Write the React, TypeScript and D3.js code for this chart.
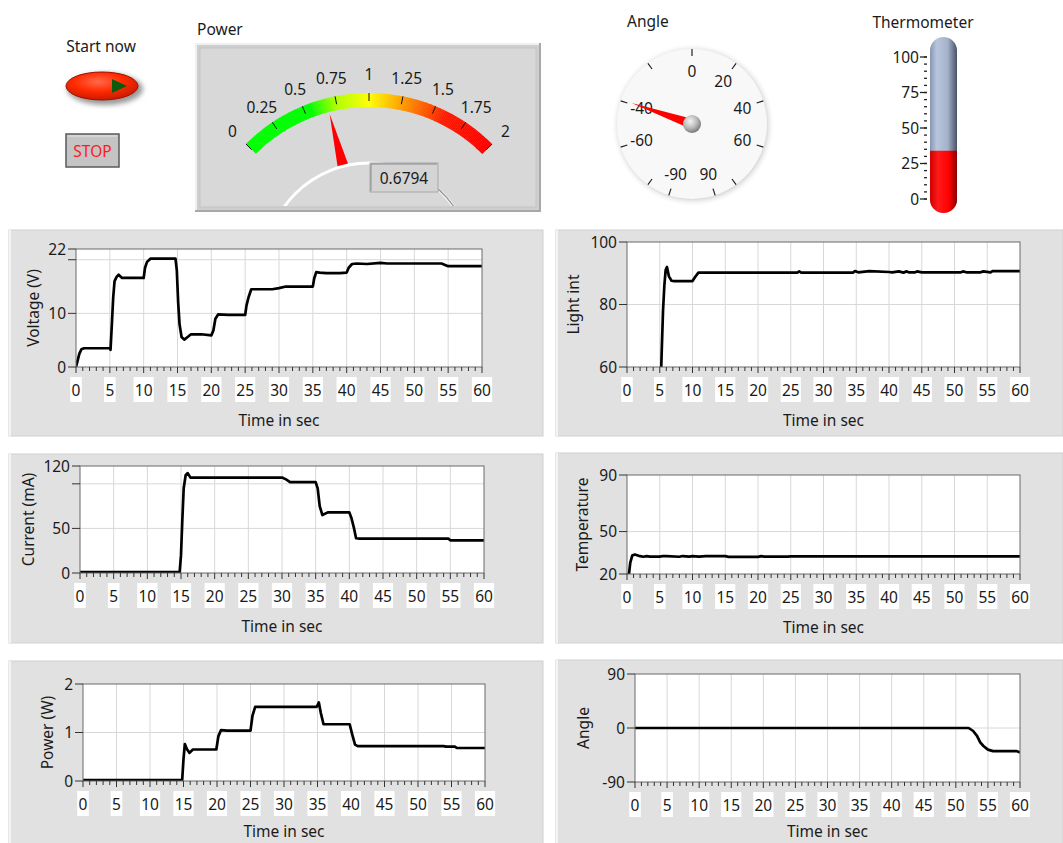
import React from "react";
import * as d3 from "d3";

const FONT = "'Noto Sans', 'Open Sans', 'DejaVu Sans', sans-serif";

// ---------- shared axis data ----------
const TIME_TICKS = d3.range(0, 61, 5);
const MINOR_TICKS = d3.range(0, 61, 1);

// ---------- Voltage (V) ----------
const VOLT_T = [0, 0.2, 0.5, 0.8, 1.2, 5, 5.1, 5.3, 5.5, 5.7, 6, 6.3, 6.8, 10, 10.2, 10.5, 11, 14.7, 14.9, 15.1, 15.3, 15.6, 16, 16.5, 17, 18.5, 20, 20.3, 20.6, 21, 22.5, 25, 25.2, 25.5, 25.9, 29, 30, 31, 35, 35.2, 35.5, 36, 37, 39, 40, 40.3, 40.8, 41.5, 43, 45, 46, 54, 55, 60];
const VOLT_V = [0, 1, 2.5, 3.3, 3.5, 3.5, 3.2, 8, 13, 16, 16.8, 17.2, 16.6, 16.6, 18.5, 19.6, 20.2, 20.2, 18, 12, 8, 5.6, 5.1, 5.6, 6.1, 6.1, 5.9, 6.8, 9, 9.8, 9.7, 9.7, 11.5, 13, 14.5, 14.5, 14.7, 15.0, 15.0, 16.5, 17.7, 17.6, 17.5, 17.5, 17.6, 18.5, 19.2, 19.3, 19.2, 19.4, 19.3, 19.3, 18.8, 18.8];

// ---------- Light int ----------
const LIGHT_T = [0, 5.2, 5.3, 5.5, 5.7, 5.9, 6.1, 6.4, 6.8, 7.2, 10, 10.4, 10.9, 26, 26.3, 26.6, 34.5, 34.8, 35.3, 37, 40, 40.5, 41.5, 42.2, 42.7, 43, 44, 44.3, 45, 51, 51.3, 51.8, 54, 54.4, 55.5, 55.8, 60];
const LIGHT_V = [0, 58, 65, 78, 86, 91, 92, 89, 87.6, 87.5, 87.5, 88.8, 90.2, 90.2, 90.6, 90.2, 90.2, 90.7, 90.3, 90.7, 90.4, 90.3, 90.6, 90.2, 90.6, 90.3, 90.3, 90.6, 90.3, 90.3, 90.6, 90.3, 90.3, 90.6, 90.3, 90.7, 90.7];

// ---------- Current (mA) ----------
const CURR_T = [0, 14.8, 15, 15.2, 15.4, 15.7, 16, 16.4, 30, 30.6, 31.2, 35, 35.3, 35.6, 36, 36.8, 40, 40.3, 40.7, 41, 41.5, 54.7, 55, 60];
const CURR_V = [1, 1, 20, 60, 95, 110, 112, 107, 107, 105, 102, 102, 95, 75, 65, 68, 68, 62, 50, 39, 38.5, 38.5, 36.7, 36.7];

// ---------- Temperature ----------
const TEMP_T = [0, 0.3, 0.5, 0.8, 1.2, 2, 2.5, 3, 3.5, 5, 5.5, 6, 8, 8.5, 9.5, 10, 11, 12, 15, 15.5, 16, 20, 20.5, 21, 24.5, 25, 60];
const TEMP_V = [20, 20, 28, 33, 33.8, 32.6, 32.2, 32.6, 32.3, 32.3, 32.7, 32.7, 32.2, 32.7, 32.3, 32.6, 32.3, 32.6, 32.6, 32.1, 32.1, 32.1, 32.6, 32.3, 32.3, 32.5, 32.5];

// ---------- Power (W) ----------
const POW_T = [0, 14.8, 15, 15.2, 15.5, 15.9, 16.4, 19.9, 20.2, 20.6, 21.5, 25, 25.3, 25.7, 34.9, 35.2, 35.5, 35.9, 37, 39.8, 40.2, 40.6, 41, 53.8, 54.2, 55.5, 55.8, 60];
const POW_V = [0.02, 0.02, 0.45, 0.76, 0.66, 0.58, 0.65, 0.65, 0.92, 1.05, 1.04, 1.04, 1.35, 1.53, 1.53, 1.62, 1.4, 1.17, 1.17, 1.17, 0.95, 0.75, 0.72, 0.72, 0.71, 0.71, 0.68, 0.68];

// ---------- Angle ----------
const ANG_T = [0, 52, 52.7, 53.3, 53.8, 54.3, 55, 55.8, 59.5, 60];
const ANG_V = [0, 0, -5, -13, -24, -30, -36, -38.5, -38.5, -41];

// ---------- Indicators ----------
const POWER_VALUE = 0.6794;
const POWER_TICKS = [0, 0.25, 0.5, 0.75, 1, 1.25, 1.5, 1.75, 2];
const POWER_COLOR_STOPS = [0, 0.55, 0.75, 1.0, 1.3, 1.6, 2];
const POWER_COLORS = ["#00ff00", "#00ff00", "#b0ff00", "#ffff00", "#ff8c00", "#ff1a00", "#ff0000"];

const ANGLE_VALUE = -39.3;
const ANGLE_TICKS = [-90, -80, -60, -40, -20, 0, 20, 40, 60, 80, 90];
const ANGLE_LABELS = [-90, -60, -40, 0, 20, 40, 60, 90];

const THERMO_VALUE = 34;
const THERMO_MAJOR = [0, 25, 50, 75, 100];
const THERMO_MINOR = d3.range(0, 101, 5);

type Cfg = {
  id: string;
  panel: { x: number; y: number; w: number; h: number };
  plot: { l: number; t: number; r: number; b: number };
  yDomain: [number, number];
  yTicks: number[];
  yLabels: number[];
  yGrid: number[];
  t: number[];
  v: number[];
  title: string;
  titleX: number;
  xTitleDy: number;
};

const CHARTS: Cfg[] = [
  { id: "c1", panel: { x: 9, y: 230, w: 534, h: 206 }, plot: { l: 76, t: 249, r: 482, b: 367 }, yDomain: [0, 22], yTicks: [0, 10, 20, 22], yLabels: [0, 10, 22], yGrid: [10, 20], t: VOLT_T, v: VOLT_V, title: "Voltage (V)", titleX: 33, xTitleDy: 59 },
  { id: "c2", panel: { x: 556, y: 230, w: 507, h: 206 }, plot: { l: 627, t: 242, r: 1020, b: 367 }, yDomain: [60, 100], yTicks: [60, 80, 100], yLabels: [60, 80, 100], yGrid: [80], t: LIGHT_T, v: LIGHT_V, title: "Light int", titleX: 573, xTitleDy: 59 },
  { id: "c3", panel: { x: 9, y: 454, w: 534, h: 189 }, plot: { l: 80, t: 466, r: 484, b: 573 }, yDomain: [0, 120], yTicks: [0, 50, 100, 120], yLabels: [0, 50, 120], yGrid: [50, 100], t: CURR_T, v: CURR_V, title: "Current (mA)", titleX: 28, xTitleDy: 59 },
  { id: "c4", panel: { x: 556, y: 453, w: 507, h: 190 }, plot: { l: 627, t: 475, r: 1020, b: 574 }, yDomain: [20, 90], yTicks: [20, 50, 90], yLabels: [20, 50, 90], yGrid: [50], t: TEMP_T, v: TEMP_V, title: "Temperature", titleX: 582, xTitleDy: 59 },
  { id: "c5", panel: { x: 9, y: 661, w: 534, h: 190 }, plot: { l: 83, t: 684, r: 485, b: 781 }, yDomain: [0, 2], yTicks: [0, 1, 2], yLabels: [0, 1, 2], yGrid: [1], t: POW_T, v: POW_V, title: "Power (W)", titleX: 47, xTitleDy: 56 },
  { id: "c6", panel: { x: 556, y: 660, w: 507, h: 190 }, plot: { l: 635, t: 674, r: 1020, b: 782 }, yDomain: [-90, 90], yTicks: [-90, 0, 90], yLabels: [-90, 0, 90], yGrid: [0], t: ANG_T, v: ANG_V, title: "Angle", titleX: 583, xTitleDy: 55 },
];

function StripChart({ cfg }: { cfg: Cfg }) {
  const { id, panel, plot, yDomain, yTicks, yLabels, yGrid, t, v, title, titleX, xTitleDy } = cfg;
  const x = d3.scaleLinear().domain([0, 60]).range([plot.l, plot.r]);
  const y = d3.scaleLinear().domain(yDomain).range([plot.b, plot.t]);
  const line = d3
    .line<number>()
    .x((_, i) => x(t[i]))
    .y((d) => y(d));
  const midY = (plot.t + plot.b) / 2;
  return (
    <g fontFamily={FONT}>
      <rect x={panel.x} y={panel.y} width={panel.w} height={panel.h} fill="#e1e1e1" stroke="#d0d0d0" />
      <line x1={panel.x + 1} x2={panel.x + 1} y1={panel.y} y2={panel.y + panel.h} stroke="#f4f4f4" strokeWidth={2} />
      <rect x={plot.l} y={plot.t} width={plot.r - plot.l} height={plot.b - plot.t} fill="#ffffff" />
      {TIME_TICKS.slice(1, -1).map((d) => (
        <line key={"gx" + d} x1={x(d)} x2={x(d)} y1={plot.t} y2={plot.b} stroke="#d8d8d8" />
      ))}
      {yGrid.map((d) => (
        <line key={"gy" + d} x1={plot.l} x2={plot.r} y1={y(d)} y2={y(d)} stroke="#d8d8d8" />
      ))}
      <clipPath id={id}>
        <rect x={plot.l} y={plot.t} width={plot.r - plot.l} height={plot.b - plot.t} />
      </clipPath>
      <path d={line(v) || ""} fill="none" stroke="#000" strokeWidth={2.7} strokeLinejoin="round" clipPath={`url(#${id})`} />
      <rect x={plot.l} y={plot.t} width={plot.r - plot.l} height={plot.b - plot.t} fill="none" stroke="#6a6a6a" />
      {MINOR_TICKS.map((d) => (
        <line key={"mt" + d} x1={x(d)} x2={x(d)} y1={plot.b} y2={plot.b + (d % 5 === 0 ? 6 : 4)} stroke="#333" />
      ))}
      {TIME_TICKS.map((d) => {
        const s = String(d);
        const w = s.length * 8.6 + 3;
        return (
          <g key={"xl" + d}>
            <rect x={x(d) - w / 2} y={plot.b + 10} width={w} height={25} fill="#ffffff" />
            <text x={x(d)} y={plot.b + 29} textAnchor="middle" fontSize={15.5} fill="#1a1a1a">
              {s}
            </text>
          </g>
        );
      })}
      {yTicks.map((d) => (
        <line key={"yt" + d} x1={plot.l - 8} x2={plot.l} y1={y(d)} y2={y(d)} stroke="#333" />
      ))}
      {yLabels.map((d) => (
        <text key={"yl" + d} x={plot.l - 10} y={y(d) + 5.5} textAnchor="end" fontSize={15.5} fill="#1a1a1a">
          {d}
        </text>
      ))}
      <text x={(plot.l + plot.r) / 2} y={plot.b + xTitleDy} textAnchor="middle" fontSize={15.5} fill="#1a1a1a">
        Time in sec
      </text>
      <text transform={`translate(${titleX},${midY}) rotate(-90)`} textAnchor="middle" dy={5.5} fontSize={15.5} fill="#1a1a1a">
        {title}
      </text>
    </g>
  );
}

function PowerGauge() {
  const cx = 369, cy = 267, rOut = 174, rIn = 160;
  const ang = d3.scaleLinear().domain([0, 2]).range([-45, 45]);
  const color = d3.scaleLinear<string>().domain(POWER_COLOR_STOPS).range(POWER_COLORS);
  const arc = d3.arc<any>();
  const segs = d3.range(0, 2, 2 / 160);
  const rad = (deg: number) => (deg * Math.PI) / 180;
  const pol = (r: number, deg: number): [number, number] => [cx + r * Math.sin(rad(deg)), cy - r * Math.cos(rad(deg))];
  const a = ang(POWER_VALUE);
  const tip = pol(rIn - 2, a);
  const b1 = pol(100, a - 3.4);
  const b2 = pol(100, a + 3.4);
  return (
    <g fontFamily={FONT}>
      <text x={197} y={35} fontSize={15.5} fill="#1a1a1a">Power</text>
      <rect x={195} y={43} width={346} height={169} fill="#a8a8a8" />
      <rect x={195} y={43} width={344} height={167} fill="#f0f0f0" />
      <rect x={197} y={45} width={342} height={165} fill="#cfcfcf" />
      <rect x={200} y={48} width={336} height={159} fill="#d8d8d8" stroke="#c4c4c4" />
      <clipPath id="pg">
        <rect x={200} y={48} width={336} height={158} />
      </clipPath>
      {segs.map((s) => (
        <path
          key={s}
          transform={`translate(${cx},${cy})`}
          d={arc({ innerRadius: rIn, outerRadius: rOut, startAngle: rad(ang(s)), endAngle: rad(ang(s + 2 / 160)) + 0.002 }) || ""}
          fill={color(s + 1 / 160)}
        />
      ))}
      {POWER_TICKS.map((d) => {
        const p1 = pol(rOut - 8, ang(d));
        const p2 = pol(rOut, ang(d));
        const lp = pol(193, ang(d));
        return (
          <g key={d}>
            <line x1={p1[0]} y1={p1[1]} x2={p2[0]} y2={p2[1]} stroke="#111" strokeWidth={1} />
            <text x={lp[0]} y={lp[1] + 6} textAnchor="middle" fontSize={15.5} fill="#1a1a1a">
              {String(d)}
            </text>
          </g>
        );
      })}
      <polygon points={`${tip[0]},${tip[1]} ${b1[0]},${b1[1]} ${b2[0]},${b2[1]}`} fill="#ff0000" />
      <g clipPath="url(#pg)">
        <circle cx={cx} cy={cy} r={104} fill="#d8d8d8" stroke="#ffffff" strokeWidth={3} />
        <path
          d={`M ${pol(104, 30)[0]} ${pol(104, 30)[1]} A 104 104 0 0 1 ${pol(104, 70)[0]} ${pol(104, 70)[1]}`}
          fill="none"
          stroke="#9a9a9a"
          strokeWidth={1.5}
        />
      </g>
      <rect x={370} y={163} width={68} height={29} fill="#d4d4d4" stroke="#a8a8a8" />
      <line x1={371} x2={437} y1={164} y2={164} stroke="#8a8a8a" />
      <line x1={371} x2={371} y1={164} y2={191} stroke="#8a8a8a" />
      <text x={404} y={184} textAnchor="middle" fontSize={15.5} fill="#1a1a1a">
        {POWER_VALUE.toFixed(4)}
      </text>
    </g>
  );
}

function AngleDial() {
  const cx = 692, cy = 124;
  const ang = d3.scaleLinear().domain([-90, 90]).range([-162, 162]);
  const rad = (deg: number) => (deg * Math.PI) / 180;
  const pol = (r: number, deg: number): [number, number] => [cx + r * Math.sin(rad(deg)), cy - r * Math.cos(rad(deg))];
  const a = ang(ANGLE_VALUE);
  const tip = pol(64, a);
  const b1 = pol(5, a - 90);
  const b2 = pol(5, a + 90);
  return (
    <g fontFamily={FONT}>
      <defs>
        <radialGradient id="dialShadow" cx="50%" cy="50%" r="50%">
          <stop offset="88%" stopColor="#c8c8c8" />
          <stop offset="100%" stopColor="#ffffff" stopOpacity={0} />
        </radialGradient>
        <radialGradient id="hubG" cx="40%" cy="35%" r="65%">
          <stop offset="0%" stopColor="#f4f4f4" />
          <stop offset="60%" stopColor="#b8b8b8" />
          <stop offset="100%" stopColor="#7a7a7a" />
        </radialGradient>
      </defs>
      <text x={627} y={27} fontSize={15.5} fill="#1a1a1a">Angle</text>
      <circle cx={cx + 1} cy={cy + 1} r={82} fill="url(#dialShadow)" />
      <circle cx={cx} cy={cy} r={75} fill="#f8f8f8" />
      {ANGLE_TICKS.map((d) => {
        const p1 = pol(68, ang(d));
        const p2 = pol(75, ang(d));
        return <line key={d} x1={p1[0]} y1={p1[1]} x2={p2[0]} y2={p2[1]} stroke="#222" strokeWidth={1.2} />;
      })}
      {ANGLE_LABELS.map((d) => {
        const p = pol(53, ang(d));
        return (
          <text key={"l" + d} x={p[0]} y={p[1] + 6} textAnchor="middle" fontSize={15.5} fill="#1a1a1a">
            {d}
          </text>
        );
      })}
      <polygon points={`${tip[0]},${tip[1]} ${b1[0]},${b1[1]} ${b2[0]},${b2[1]}`} fill="#ff0000" />
      <circle cx={cx} cy={cy} r={9} fill="url(#hubG)" />
    </g>
  );
}

function Thermometer() {
  const y = d3.scaleLinear().domain([0, 100]).range([199, 57]);
  const tx = 930, tw = 27, top = 37, bot = 213;
  const r = tw / 2;
  const capsule = (y0: number, y1: number, roundTop: boolean) =>
    `M ${tx} ${roundTop ? y0 + r : y0} ` +
    (roundTop ? `A ${r} ${r} 0 0 1 ${tx + tw} ${y0 + r} ` : `L ${tx + tw} ${y0} `) +
    `L ${tx + tw} ${y1 - r} A ${r} ${r} 0 0 1 ${tx} ${y1 - r} Z`;
  const level = y(THERMO_VALUE);
  return (
    <g fontFamily={FONT}>
      <defs>
        <linearGradient id="tubeG" x1="0" x2="1" y1="0" y2="0">
          <stop offset="0%" stopColor="#8797b2" />
          <stop offset="25%" stopColor="#b7c6dc" />
          <stop offset="65%" stopColor="#a4b3cb" />
          <stop offset="100%" stopColor="#4a5366" />
        </linearGradient>
        <linearGradient id="redG" x1="0" x2="1" y1="0" y2="0">
          <stop offset="0%" stopColor="#d00000" />
          <stop offset="30%" stopColor="#ff1a1a" />
          <stop offset="70%" stopColor="#ff0000" />
          <stop offset="100%" stopColor="#8a0000" />
        </linearGradient>
      </defs>
      <text x={923} y={28} textAnchor="middle" fontSize={15.5} fill="#1a1a1a">Thermometer</text>
      <path d={capsule(top, bot, true)} fill="url(#tubeG)" />
      <path d={capsule(level, bot, false)} fill="url(#redG)" />
      {THERMO_MINOR.map((d) => (
        <line key={"m" + d} x1={924} x2={927} y1={y(d)} y2={y(d)} stroke="#222" strokeWidth={1.3} />
      ))}
      {THERMO_MAJOR.map((d) => (
        <g key={d}>
          <line x1={920} x2={927} y1={y(d)} y2={y(d)} stroke="#222" strokeWidth={1.3} />
          <text x={919} y={y(d) + 5.5} textAnchor="end" fontSize={15.5} fill="#1a1a1a">
            {d}
          </text>
        </g>
      ))}
    </g>
  );
}

function Controls() {
  return (
    <g fontFamily={FONT}>
      <defs>
        <radialGradient id="btnG" cx="45%" cy="35%" r="70%">
          <stop offset="0%" stopColor="#ff6a4a" />
          <stop offset="50%" stopColor="#ff2a00" />
          <stop offset="100%" stopColor="#c01800" />
        </radialGradient>
        <filter id="blur2">
          <feGaussianBlur stdDeviation="2.5" />
        </filter>
      </defs>
      <text x={101} y={52} textAnchor="middle" fontSize={15.5} fill="#1a1a1a">Start now</text>
      <ellipse cx={105} cy={89} rx={38} ry={16} fill="#9a9a9a" filter="url(#blur2)" />
      <ellipse cx={102} cy={86} rx={36} ry={14} fill="url(#btnG)" stroke="#a01000" strokeWidth={1} />
      <polygon points="112,79 112,93 127,86" fill="#0c5a0c" />
      <rect x={66} y={134} width={53} height={33} fill="#c4c4c4" stroke="#5a5a5a" strokeWidth={1.5} />
      <line x1={68} x2={117} y1={136} y2={136} stroke="#e6e6e6" />
      <text x={92.5} y={157} textAnchor="middle" fontSize={15.5} fill="#ff1a1a">STOP</text>
    </g>
  );
}

export default function App() {
  return (
    <svg width={1063} height={843} viewBox="0 0 1063 843" style={{ position: "absolute", left: 0, top: 0, background: "#fff" }}>
      <rect x={0} y={0} width={1063} height={843} fill="#ffffff" />
      <Controls />
      <PowerGauge />
      <AngleDial />
      <Thermometer />
      {CHARTS.map((c) => (
        <StripChart key={c.id} cfg={c} />
      ))}
    </svg>
  );
}
